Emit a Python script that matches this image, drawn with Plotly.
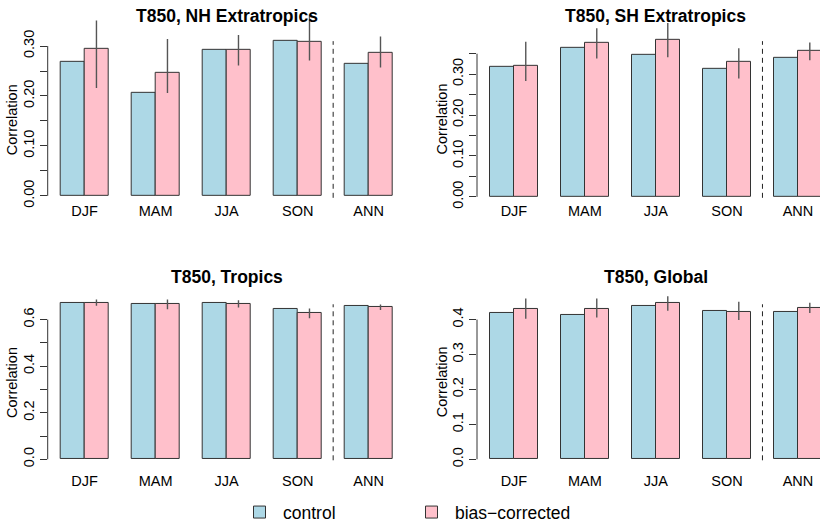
import plotly.graph_objects as go

# ---------------- data ----------------
seasons = ["DJF", "MAM", "JJA", "SON", "ANN"]

nh_control = [0.269, 0.206, 0.292, 0.311, 0.265]
nh_bias = [0.295, 0.246, 0.292, 0.308, 0.286]
nh_lo = [0.216, 0.206, 0.261, 0.271, 0.257]
nh_hi = [0.351, 0.314, 0.322, 0.363, 0.319]

sh_control = [0.317, 0.365, 0.348, 0.314, 0.339]
sh_bias = [0.321, 0.376, 0.383, 0.330, 0.358]
sh_lo = [0.283, 0.338, 0.341, 0.289, 0.334]
sh_hi = [0.379, 0.412, 0.425, 0.363, 0.377]

tr_control = [0.672, 0.665, 0.670, 0.644, 0.658]
tr_bias = [0.672, 0.665, 0.667, 0.627, 0.653]
tr_lo = [0.659, 0.644, 0.652, 0.606, 0.641]
tr_hi = [0.686, 0.686, 0.683, 0.648, 0.665]

gl_control = [0.420, 0.413, 0.438, 0.425, 0.421]
gl_bias = [0.430, 0.429, 0.448, 0.422, 0.434]
gl_lo = [0.402, 0.406, 0.425, 0.399, 0.419]
gl_hi = [0.460, 0.460, 0.467, 0.451, 0.448]

titles = ["T850, NH Extratropics", "T850, SH Extratropics", "T850, Tropics", "T850, Global"]
series_names = ["control", "bias\u2212corrected"]

nh_ticks = [0, 0.05, 0.10, 0.15, 0.20, 0.25, 0.30]
nh_labels = ["0.00", "", "0.10", "", "0.20", "", "0.30"]
sh_ticks = [0, 0.05, 0.10, 0.15, 0.20, 0.25, 0.30, 0.35]
sh_labels = ["0.00", "", "0.10", "", "0.20", "", "0.30", ""]
tr_ticks = [0, 0.1, 0.2, 0.3, 0.4, 0.5, 0.6]
tr_labels = ["0.0", "", "0.2", "", "0.4", "", "0.6"]
gl_ticks = [0, 0.1, 0.2, 0.3, 0.4]
gl_labels = ["0.0", "0.1", "0.2", "0.3", "0.4"]

# ---------------- styling / geometry ----------------
W, H = 820, 532
FONT = "Liberation Sans, Arial, Helvetica, sans-serif"
C_CTRL = "#ADD8E6"   # lightblue
C_BIAS = "#FFC0CB"   # pink
EDGE = "#333333"

def px(x):
    return x / W

def py(y):
    return 1 - y / H

UNIT = 23.67  # px per bar
panels = [
    dict(xl=47.7, xr=405.6, zero=200.0, scale=510.0, top=8, bot=202, rtop=42, rbot=202,
         title_y=16, stand=3, c=nh_control, b=nh_bias, lo=nh_lo, hi=nh_hi,
         tv=nh_ticks, tt=nh_labels),
    dict(xl=477.0, xr=820.0, zero=201.0, scale=417.7, top=8, bot=202, rtop=42, rbot=202,
         title_y=16, stand=3, c=sh_control, b=sh_bias, lo=sh_lo, hi=sh_hi,
         tv=sh_ticks, tt=sh_labels),
    dict(xl=47.7, xr=405.6, zero=469.0, scale=237.8, top=292, bot=470, rtop=310.7, rbot=470,
         title_y=283.3, stand=10, c=tr_control, b=tr_bias, lo=tr_lo, hi=tr_hi,
         tv=tr_ticks, tt=tr_labels),
    dict(xl=477.0, xr=820.0, zero=469.0, scale=356.75, top=292, bot=470, rtop=310.7, rbot=470,
         title_y=283.3, stand=10, c=gl_control, b=gl_bias, lo=gl_lo, hi=gl_hi,
         tv=gl_ticks, tt=gl_labels),
]

fig = go.Figure()
layout = dict(
    width=W, height=H, margin=dict(l=0, r=0, t=0, b=0),
    paper_bgcolor="white", plot_bgcolor="white",
    barmode="overlay", bargap=0,
    font=dict(family=FONT, size=14.5, color="black"),
    showlegend=True,
    legend=dict(orientation="h", x=px(236), y=py(523), xanchor="left", yanchor="middle",
                font=dict(size=17.5, family=FONT, color="black"),
                itemwidth=37, entrywidth=120, entrywidthmode="pixels",
                bgcolor="rgba(0,0,0,0)", itemclick=False, itemdoubleclick=False),
)
shapes = []
annotations = []

group_idx = list(range(len(seasons)))
ctrl_x = [3 * i + 1.5 for i in group_idx]
bias_x = [3 * i + 2.5 for i in group_idx]
center_x = [3 * i + 2 for i in group_idx]
sep_x = 3 * (len(seasons) - 1) + 0.5

for k, p in enumerate(panels):
    sfx = "" if k == 0 else str(k + 1)
    xa, ya = "x" + sfx, "y" + sfx
    x_lo = 0.44
    x_hi = x_lo + (p["xr"] - p["xl"]) / UNIT
    y_lo = -(p["bot"] - p["zero"]) / p["scale"]
    y_hi = (p["zero"] - p["top"]) / p["scale"]

    layout["xaxis" + sfx] = dict(
        domain=[px(p["xl"]), px(p["xr"])], range=[x_lo, x_hi], anchor=ya,
        tickvals=center_x, ticktext=seasons, showgrid=False, zeroline=False,
        showline=False, ticks="", ticklabelstandoff=p["stand"],
        tickfont=dict(size=14.5, family=FONT, color="black"), fixedrange=True,
    )
    layout["yaxis" + sfx] = dict(
        domain=[py(p["bot"]), py(p["top"])], range=[y_lo, y_hi], anchor=xa,
        tickvals=p["tv"], ticktext=p["tt"], tickangle=-90, ticks="outside", ticklen=7,
        tickwidth=1, tickcolor=EDGE, showgrid=False, zeroline=False, showline=False,
        tickfont=dict(size=14.5, family=FONT, color="black"), fixedrange=True,
    )

    fig.add_trace(go.Bar(
        x=ctrl_x, y=p["c"], width=1, name=series_names[0], xaxis=xa, yaxis=ya,
        marker=dict(color=C_CTRL, line=dict(color=EDGE, width=1)),
        showlegend=(k == 0), legendgroup="c",
    ))
    plus = [h - v for h, v in zip(p["hi"], p["b"])]
    minus = [v - l for v, l in zip(p["b"], p["lo"])]
    fig.add_trace(go.Bar(
        x=bias_x, y=p["b"], width=1, name=series_names[1], xaxis=xa, yaxis=ya,
        marker=dict(color=C_BIAS, line=dict(color=EDGE, width=1)),
        error_y=dict(type="data", array=plus, arrayminus=minus, symmetric=False,
                     width=0, thickness=1.4, color="#555555"),
        showlegend=(k == 0), legendgroup="b",
    ))

    # y-axis line from first to last tick (R style)
    shapes.append(dict(type="line", xref=xa + " domain", yref=ya, x0=0, x1=0,
                       y0=p["tv"][0], y1=p["tv"][-1], line=dict(color=EDGE, width=1)))
    # dashed separator before the annual group
    shapes.append(dict(type="line", xref=xa, yref="paper", x0=sep_x, x1=sep_x,
                       y0=py(p["rbot"]), y1=py(p["rtop"]),
                       line=dict(color="#222222", width=1, dash="5px,4px")))
    # panel title
    annotations.append(dict(text="<b>" + titles[k] + "</b>", xref=xa, yref="paper",
                            x=(x_lo + 15.56) / 2, y=py(p["title_y"]), xanchor="center",
                            yanchor="middle", showarrow=False,
                            font=dict(size=17.5, family=FONT, color="black")))
    # y-axis title
    annotations.append(dict(text="Correlation", xref="paper", yref="paper",
                            x=px(p["xl"] - 35), y=py((p["rtop"] + p["rbot"]) / 2),
                            xanchor="center", yanchor="middle", textangle=-90,
                            showarrow=False, font=dict(size=14.5, family=FONT, color="black")))

layout["shapes"] = shapes
layout["annotations"] = annotations
fig.update_layout(**layout)
fig.write_html("out.html")
